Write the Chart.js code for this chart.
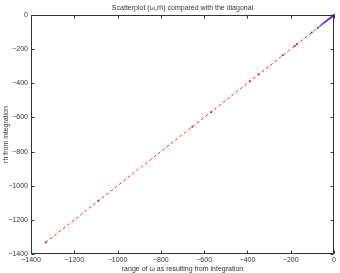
<!DOCTYPE html>
<html>
<head>
<meta charset="utf-8">
<script src="https://cdn.jsdelivr.net/npm/chart.js@4/dist/chart.umd.min.js"></script>
<style>
html,body{margin:0;padding:0;background:#fff;}
#wrap{width:340px;height:273px;position:relative;}
</style>
</head>
<body>
<div id="wrap"><canvas id="c" width="340" height="273"></canvas></div>
<script>
// Scatter values (omega from integration, rh from integration)
const omegaValues = [-1332, -1089, -655, -567, -389, -348, -237, -181, -172, -103, -75, -62, -54, -47, -41, -36, -31, -27, -23, -19, -16, -13, -10, -8, -6, -4, -3, -2, -1, 0];
const rhValues    = [-1332, -1088, -654, -568, -388, -347, -236, -182, -171, -103, -76, -62, -54, -46, -41, -36, -31, -27, -23, -19, -16, -13, -10, -8, -6, -4, -3, -2, -1, 0];
// Diagonal endpoints
const diagX = [-1332, 0];
const diagY = [-1332, 0];
// Tick labels
const xTicks = [-1400, -1200, -1000, -800, -600, -400, -200, 0];
const yTicks = [-1400, -1200, -1000, -800, -600, -400, -200, 0];
const titleText = 'Scatterplot (\u03c9,rh) compared with the diagonal';
const xTitle = 'range of \u03c9 as resulting from integration';
const yTitle = 'rh from integration';

const FONT = 'Liberation Sans, Arial, Helvetica, sans-serif';
const fmt = v => (v < 0 ? '\u2212' + Math.abs(v) : String(v));

const boxPlugin = {
  id: 'box',
  afterDraw(chart) {
    const ctx = chart.ctx, a = chart.chartArea;
    const xs = chart.scales.x, ys = chart.scales.y;
    ctx.save();
    ctx.strokeStyle = '#333';
    ctx.lineWidth = 1;
    const L = Math.round(a.left) + 0.5, R = Math.round(a.right) - 0.5;
    const T = Math.round(a.top) + 0.5, B = Math.round(a.bottom) - 0.5;
    ctx.strokeRect(L, T, R - L, B - T);
    ctx.beginPath();
    const tl = 3;
    xTicks.forEach(v => {
      const p = Math.round(xs.getPixelForValue(v)) + 0.5;
      ctx.moveTo(p, B); ctx.lineTo(p, B - tl);
      ctx.moveTo(p, T); ctx.lineTo(p, T + tl);
    });
    yTicks.forEach(v => {
      const p = Math.round(ys.getPixelForValue(v)) + 0.5;
      ctx.moveTo(L, p); ctx.lineTo(L + tl, p);
      ctx.moveTo(R, p); ctx.lineTo(R - tl, p);
    });
    ctx.stroke();
    ctx.fillStyle = '#333';
    ctx.font = '7px ' + FONT;
    ctx.textAlign = 'center';
    ctx.textBaseline = 'middle';
    ctx.fillText(titleText, (a.left + a.right) / 2, 8);
    ctx.restore();
  }
};

new Chart(document.getElementById('c'), {
  type: 'scatter',
  data: {
    datasets: [
      {
        type: 'line',
        data: diagX.map((x, i) => ({x: x, y: diagY[i]})),
        borderColor: 'rgba(255,0,0,0.85)',
        borderWidth: 1,
        borderDash: [3, 2.5],
        pointRadius: 0,
        fill: false,
        order: 1
      },
      {
        data: omegaValues.map((x, i) => ({x: x, y: rhValues[i]})),
        backgroundColor: '#3a3aff',
        borderColor: '#3a3aff',
        pointRadius: 1,
        borderWidth: 0,
        clip: false,
        order: 2
      }
    ]
  },
  options: {
    responsive: false,
    animation: false,
    devicePixelRatio: 1,
    layout: {padding: {left: 0, right: 6, top: 15, bottom: 0}},
    plugins: {legend: {display: false}, tooltip: {enabled: false}, title: {display: false}},
    scales: {
      x: {
        type: 'linear', position: 'bottom', min: -1400, max: 0,
        grid: {display: false, drawTicks: false},
        border: {display: false},
        afterBuildTicks: s => { s.ticks = xTicks.map(v => ({value: v})); },
        afterFit: s => { s.height = 19; },
        ticks: {autoSkip: false, maxRotation: 0, padding: 2, color: '#333', font: {size: 7, family: FONT}, callback: v => fmt(v)},
        title: {display: true, text: xTitle, color: '#333', font: {size: 7, family: FONT}, padding: {top: 0, bottom: 0}}
      },
      y: {
        type: 'linear', min: -1400, max: 0,
        grid: {display: false, drawTicks: false},
        border: {display: false},
        afterBuildTicks: s => { s.ticks = yTicks.map(v => ({value: v})); },
        afterFit: s => { s.width = 31; },
        ticks: {autoSkip: false, padding: 3, color: '#333', font: {size: 7, family: FONT}, callback: v => fmt(v)},
        title: {display: true, text: yTitle, color: '#333', font: {size: 7, family: FONT}, padding: {top: 2, bottom: 0}}
      }
    }
  },
  plugins: [boxPlugin]
});
</script>
</body>
</html>
